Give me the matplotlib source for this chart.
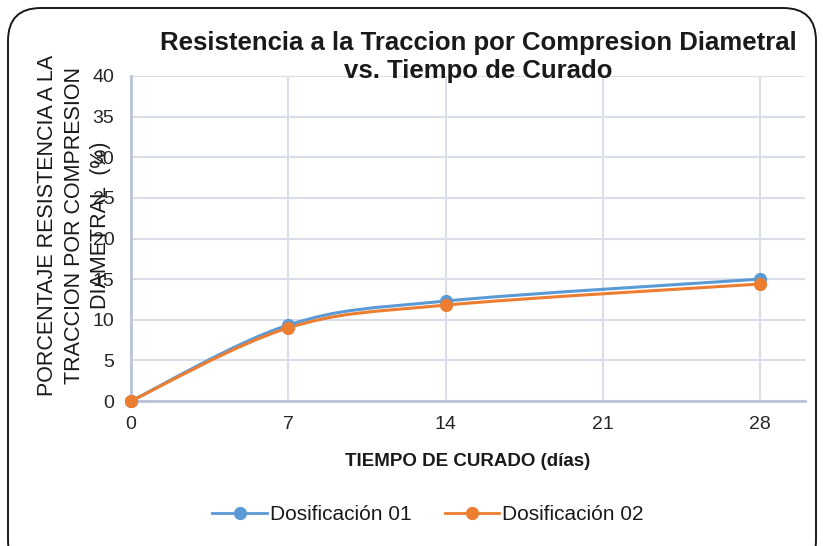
import numpy as np
import matplotlib.pyplot as plt
from matplotlib.path import Path
from matplotlib.patches import PathPatch, FancyBboxPatch
from matplotlib.lines import Line2D

# Datos de ensayo
dias = [0, 7, 14, 28]
dosif_01 = [0.0, 9.35, 12.3, 15.0]
dosif_02 = [0.0, 9.0, 11.8, 14.4]
series = ['Dosificación 01', 'Dosificación 02']
colores = ['#5b9bd5', '#ed7d31']

xticks = [0, 7, 14, 21, 28]
yticks = list(range(0, 45, 5))

sans = ['Liberation Sans', 'DejaVu Sans']


def smooth_path(x, y):
    """Curva suavizada tipo Excel (Bezier cubica con tension 1/6)"""
    pts = np.column_stack([x, y]).astype(float)
    n = len(pts)
    verts = [pts[0]]
    codes = [Path.MOVETO]
    for i in range(n - 1):
        p0 = pts[i - 1] if i > 0 else pts[i]
        p1 = pts[i]
        p2 = pts[i + 1]
        p3 = pts[i + 2] if i + 2 < n else pts[i + 1]
        c1 = p1 + (p2 - p0) / 6.0
        c2 = p2 - (p3 - p1) / 6.0
        verts += [c1, c2, p2]
        codes += [Path.CURVE4] * 3
    return Path(verts, codes)


fig = plt.figure(figsize=(8.23, 5.46), dpi=100)
fig.patch.set_facecolor('white')

# marco redondeado del grafico
marco = FancyBboxPatch((8 / 823, -0.05), 808 / 823, 1 - 8 / 546 + 0.05,
                       boxstyle='round,pad=0,rounding_size=0.04',
                       transform=fig.transFigure, fill=False,
                       edgecolor='#1a1a1a', linewidth=1.4, mutation_aspect=823 / 546)
fig.patches.append(marco)

ax = fig.add_axes([131 / 823, 1 - 401 / 546, (805 - 131) / 823, (401 - 76) / 546])

for vals, color in zip([dosif_01, dosif_02], colores):
    ax.add_patch(PathPatch(smooth_path(dias, vals), fill=False, edgecolor=color,
                           linewidth=2.2, zorder=3))
    ax.plot(dias, vals, linestyle='none', marker='o', markersize=8.5,
            color=color, zorder=4, clip_on=False)

ax.set_xlim(0, 30)
ax.set_ylim(0, 40)
ax.set_xticks(xticks)
ax.set_yticks(yticks)
ax.grid(True, color='#d9dee8', linewidth=1.5)
ax.set_axisbelow(True)
for s in ['top', 'right']:
    ax.spines[s].set_visible(False)
for s in ['left', 'bottom']:
    ax.spines[s].set_color('#b8c3d6')
    ax.spines[s].set_linewidth(2)
ax.tick_params(length=0, labelsize=14, labelcolor='#262626')
ax.tick_params(axis='y', pad=12)
ax.tick_params(axis='x', pad=11)
for lab in ax.get_xticklabels() + ax.get_yticklabels():
    lab.set_family(sans)

fig.text(478 / 823, 1 - 57 / 546,
         'Resistencia a la Traccion por Compresion Diametral\nvs. Tiempo de Curado',
         ha='center', va='center', fontsize=18.5, fontweight='bold',
         family=sans, color='#1a1a1a', linespacing=1.2)

fig.text(74 / 823, 1 - 225 / 546,
         'PORCENTAJE RESISTENCIA A LA\nTRACCION POR COMPRESION\nDIAMETRAL  (%)',
         ha='center', va='center', rotation=90, fontsize=15.5,
         family=sans, color='#1a1a1a', linespacing=1.35)

fig.text(468 / 823, 1 - 462 / 546, 'TIEMPO DE CURADO (días)', ha='center',
         va='center', fontsize=13.5, fontweight='bold', family=sans, color='#1a1a1a')

handles = [Line2D([], [], color=c, linewidth=2, marker='o', markersize=8.5)
           for c in colores]
leg = fig.legend(handles, series, loc='center', bbox_to_anchor=(428 / 823, 1 - 515 / 546),
                 ncol=2, frameon=False, handlelength=2.6, columnspacing=1.6,
                 handletextpad=0.15, prop={'family': sans, 'size': 15})
for t in leg.get_texts():
    t.set_color('#1a1a1a')

fig.savefig('out.png', dpi=100)
